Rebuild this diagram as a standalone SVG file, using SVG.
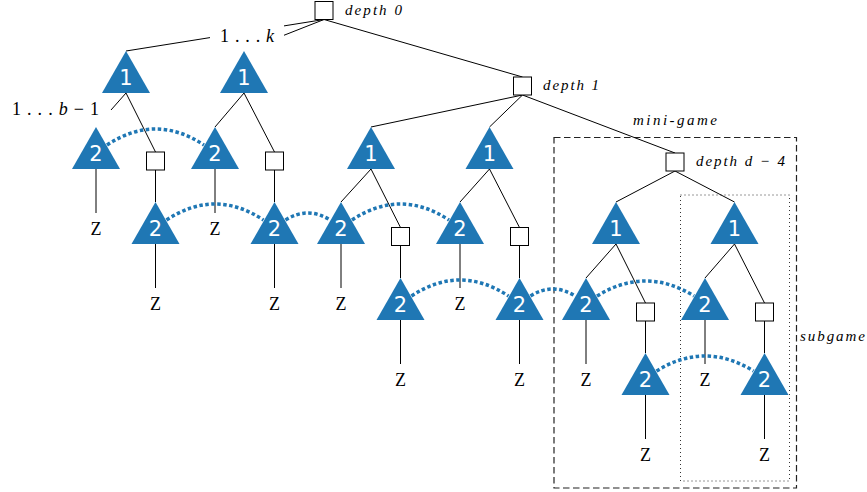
<svg xmlns="http://www.w3.org/2000/svg" width="867" height="492" viewBox="0 0 867 492">
<style>
.e{stroke:#000;stroke-width:1;fill:none}
.box{fill:#fff;stroke:#000;stroke-width:1}
.tri{fill:#1f77b4}
.tl{fill:#fff;font-family:"DejaVu Sans",sans-serif;font-size:21px;font-weight:500;text-anchor:middle}
.z{font-family:"Liberation Serif",serif;font-size:18px;text-anchor:middle;fill:#000}
.info{stroke:#1f77b4;stroke-width:3.5;stroke-dasharray:3.5 2.5;fill:none}
.lab{font-family:"Liberation Serif",serif;font-style:italic;font-size:15px;fill:#000}
.m{font-family:"Liberation Serif",serif;font-size:18px;fill:#000}
.it{font-style:italic}
</style>
<defs>
<path id="tri" d="M0,0 L24,42 L-24,42 Z"/>
<rect id="sq" x="-9" y="-9" width="18" height="18"/>
</defs>
<rect width="867" height="492" fill="#fff"/>

<g id="regions">
<rect x="554" y="137.5" width="242.5" height="350.5" fill="none" stroke="#222" stroke-width="1.2" stroke-dasharray="6.5 3.5"/>
<rect x="680.5" y="195" width="109" height="286" fill="none" stroke="#333" stroke-width="1" stroke-dasharray="1 3"/>
</g>

<g id="connectors" class="e">
<path d="M324,19.5 L284,25.9 M210,37.6 L126,51"/>
<path d="M324,19.5 L284,35.25"/>
<path d="M324,19.5 L522.5,77"/>
<path d="M126,93 L111,110"/>
<path d="M126,93 L155.5,152"/>
<path d="M244,93 L215,127"/>
<path d="M244,93 L274.5,152"/>
<path d="M522.5,95 L371,127"/>
<path d="M522.5,95 L489.5,127"/>
<path d="M522.5,95 L675,153"/>
<path d="M371,169 L341,202"/>
<path d="M371,169 L400.5,227.5"/>
<path d="M489.5,169 L460,202"/>
<path d="M489.5,169 L519.5,227.5"/>
<path d="M675,171 L616,202"/>
<path d="M675,171 L734.5,202"/>
<path d="M616,244 L586,278"/>
<path d="M616,244 L645.5,303"/>
<path d="M734.5,244 L705,278"/>
<path d="M734.5,244 L764.5,303"/>
<path d="M155.5,170 V202 M274.5,170 V202 M400.5,245.5 V278 M519.5,245.5 V278 M645.5,321 V353 M764.5,321 V353"/>
<path d="M96,169 V213 M215,169 V213"/>
<path d="M155.5,244 V288 M274.5,244 V288 M341,244 V288 M460,244 V288"/>
<path d="M400.5,320 V364 M519.5,320 V364 M586,320 V364 M705,320 V364"/>
<path d="M645.5,395 V439 M764.5,395 V439"/>
</g>

<g id="infosets" class="info">
<path d="M107,145 Q155.5,113 204,145"/>
<path d="M166.5,220 Q215,188 263.5,220"/>
<path d="M285.5,220 Q307.75,206 330,220"/>
<path d="M352,220 Q400.5,188 449,220"/>
<path d="M411.5,296 Q460,264 508.5,296"/>
<path d="M530.5,296 Q552.75,282 575,296"/>
<path d="M597,296 Q645.5,266 694,296"/>
<path d="M656.5,371 Q705,341 753.5,371"/>
</g>

<g id="root"><use href="#sq" class="box" x="324" y="10.5"/><text class="lab" x="345" y="14.5" textLength="57">depth 0</text></g>
<g id="d1"><use href="#sq" class="box" x="522.5" y="86"/><text class="lab" x="543" y="90" textLength="56">depth 1</text></g>
<g id="d4"><use href="#sq" class="box" x="675" y="162"/><text class="lab" x="696" y="165.5" textLength="89">depth d − 4</text></g>
<g id="minigame-label"><text class="lab" x="633" y="124.5" textLength="84">mini-game</text></g>
<g id="subgame-label"><text class="lab" x="800" y="341" textLength="65">subgame</text></g>
<g id="label-k"><text class="m" x="220" y="42" textLength="54">1 . . . <tspan class="it">k</tspan></text></g>
<g id="label-b"><text class="m" x="12" y="115" textLength="87">1 . . . <tspan class="it">b</tspan> − 1</text></g>

<g id="b1"><use href="#sq" class="box" x="155.5" y="161"/></g>
<g id="b2"><use href="#sq" class="box" x="274.5" y="161"/></g>
<g id="b3"><use href="#sq" class="box" x="400.5" y="236.5"/></g>
<g id="b4"><use href="#sq" class="box" x="519.5" y="236.5"/></g>
<g id="b5"><use href="#sq" class="box" x="645.5" y="312"/></g>
<g id="b6"><use href="#sq" class="box" x="764.5" y="312"/></g>

<g id="p1a" transform="translate(126,51)"><use href="#tri" class="tri"/><text class="tl" y="34">1</text></g>
<g id="p1b" transform="translate(244,51)"><use href="#tri" class="tri"/><text class="tl" y="34">1</text></g>
<g id="p1c" transform="translate(371,127)"><use href="#tri" class="tri"/><text class="tl" y="34">1</text></g>
<g id="p1d" transform="translate(489.5,127)"><use href="#tri" class="tri"/><text class="tl" y="34">1</text></g>
<g id="p1e" transform="translate(616,202)"><use href="#tri" class="tri"/><text class="tl" y="34">1</text></g>
<g id="p1f" transform="translate(734.5,202)"><use href="#tri" class="tri"/><text class="tl" y="34">1</text></g>

<g id="p2a" transform="translate(96,127)"><use href="#tri" class="tri"/><text class="tl" y="34">2</text></g>
<g id="p2b" transform="translate(215,127)"><use href="#tri" class="tri"/><text class="tl" y="34">2</text></g>
<g id="p2c" transform="translate(155.5,202)"><use href="#tri" class="tri"/><text class="tl" y="34">2</text></g>
<g id="p2d" transform="translate(274.5,202)"><use href="#tri" class="tri"/><text class="tl" y="34">2</text></g>
<g id="p2e" transform="translate(341,202)"><use href="#tri" class="tri"/><text class="tl" y="34">2</text></g>
<g id="p2f" transform="translate(460,202)"><use href="#tri" class="tri"/><text class="tl" y="34">2</text></g>
<g id="p2g" transform="translate(400.5,278)"><use href="#tri" class="tri"/><text class="tl" y="34">2</text></g>
<g id="p2h" transform="translate(519.5,278)"><use href="#tri" class="tri"/><text class="tl" y="34">2</text></g>
<g id="p2i" transform="translate(586,278)"><use href="#tri" class="tri"/><text class="tl" y="34">2</text></g>
<g id="p2j" transform="translate(705,278)"><use href="#tri" class="tri"/><text class="tl" y="34">2</text></g>
<g id="p2k" transform="translate(645.5,353)"><use href="#tri" class="tri"/><text class="tl" y="34">2</text></g>
<g id="p2l" transform="translate(764.5,353)"><use href="#tri" class="tri"/><text class="tl" y="34">2</text></g>

<g id="z1"><text class="z" x="96" y="235">Z</text></g>
<g id="z2"><text class="z" x="215" y="235">Z</text></g>
<g id="z3"><text class="z" x="155.5" y="310">Z</text></g>
<g id="z4"><text class="z" x="274.5" y="310">Z</text></g>
<g id="z5"><text class="z" x="341" y="310">Z</text></g>
<g id="z6"><text class="z" x="460" y="310">Z</text></g>
<g id="z7"><text class="z" x="400.5" y="386">Z</text></g>
<g id="z8"><text class="z" x="519.5" y="386">Z</text></g>
<g id="z9"><text class="z" x="586" y="386">Z</text></g>
<g id="z10"><text class="z" x="705" y="386">Z</text></g>
<g id="z11"><text class="z" x="645.5" y="461">Z</text></g>
<g id="z12"><text class="z" x="764.5" y="461">Z</text></g>
</svg>
